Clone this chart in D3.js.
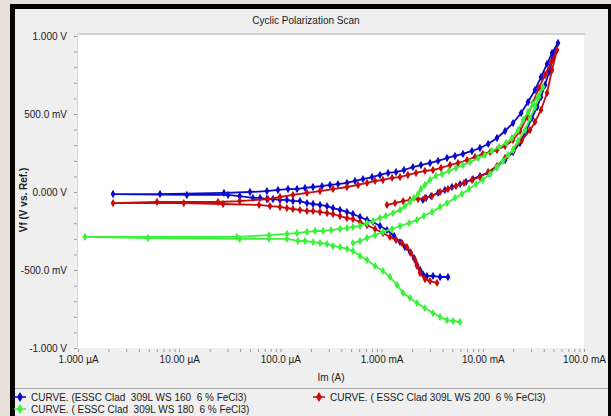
<!DOCTYPE html>
<html><head><meta charset="utf-8">
<script src="https://cdn.jsdelivr.net/npm/d3@7"></script>
<style>
html,body{margin:0;padding:0;background:#e9e0da;overflow:hidden;}
svg{display:block;}
text{font-family:"Liberation Sans Narrow","Arial Narrow","Liberation Sans",Arial,sans-serif;fill:#1a1a1a;}
.pre{white-space:pre;}
</style></head><body>
<svg id="c" width="611" height="416"></svg>
<script>
const titleText = "Cyclic Polarization Scan";
const xAxisTitle = "Im (A)";
const yAxisTitle = "Vf (V vs. Ref.)";
const yMajorValues = [-1, -0.5, 0, 0.5, 1];
const yTickLabels = ["-1.000 V", "-500.0 mV", "0.000 V", "500.0 mV", "1.000 V"];
const xMajorValues = [1e-6, 1e-5, 1e-4, 1e-3, 1e-2, 1e-1];
const xTickLabels = ["1.000 µA", "10.00 µA", "100.0 µA", "1.000 mA", "10.00 mA", "100.0 mA"];
const seriesNames = [
  "CURVE. (ESSC Clad  309L WS 160  6 % FeCl3)",
  "CURVE. ( ESSC Clad 309L WS 200  6 % FeCl3)",
  "CURVE. ( ESSC Clad  309L WS 180  6 % FeCl3)"
];
const seriesColors = ["#0a0ac8", "#c80a0a", "#3cf03c"];

// WS 160 (blue): current (A), potential (V), in scan order
const ws160I = [4.53e-3,3.78e-3,3.22e-3,2.81e-3,2.56e-3,2.40e-3,2.24e-3,2.09e-3,1.91e-3,1.70e-3,1.52e-3,1.33e-3,1.13e-3,9.64e-4,8.22e-4,7.18e-4,6.12e-4,5.21e-4,4.55e-4,3.88e-4,3.31e-4,2.89e-4,2.46e-4,2.10e-4,1.83e-4,1.56e-4,1.33e-4,1.16e-4,9.91e-5,8.45e-5,7.36e-5,6.29e-5,5.36e-5,3.96e-5,3.04e-5,
  1.19e-5,2.22e-6,6.46e-6,2.77e-5,5.01e-5,7.36e-5,
  9.46e-5,1.19e-4,1.46e-4,1.75e-4,2.10e-4,2.58e-4,3.09e-4,3.71e-4,4.55e-4,5.46e-4,6.55e-4,8.04e-4,9.64e-4,1.16e-3,1.39e-3,1.66e-3,2.04e-3,2.45e-3,3.01e-3,3.61e-3,4.43e-3,5.31e-3,6.37e-3,7.82e-3,9.38e-3,1.13e-2,1.38e-2,1.66e-2,1.99e-2,2.39e-2,2.80e-2,3.28e-2,3.76e-2,4.31e-2,4.83e-2,5.53e-2,
  4.94e-2,4.51e-2,4.12e-2,3.76e-2,3.44e-2,3.06e-2,2.67e-2,2.33e-2,1.99e-2,1.66e-2,1.38e-2,1.13e-2,9.38e-3,8.00e-3,6.82e-3,5.96e-3,4.96e-3,4.22e-3,3.61e-3,3.08e-3,2.75e-3,2.56e-3];
const ws160E = [-0.545,-0.545,-0.538,-0.538,-0.526,-0.500,-0.468,-0.423,-0.385,-0.353,-0.321,-0.282,-0.244,-0.218,-0.192,-0.179,-0.160,-0.141,-0.128,-0.115,-0.103,-0.090,-0.083,-0.077,-0.071,-0.058,-0.058,-0.051,-0.051,-0.045,-0.045,-0.038,-0.038,-0.026,-0.019,
  -0.019,-0.013,-0.013,-0.006,0.000,0.006,
  0.013,0.019,0.019,0.026,0.032,0.038,0.045,0.051,0.058,0.071,0.083,0.096,0.109,0.122,0.128,0.141,0.160,0.173,0.186,0.199,0.218,0.231,0.244,0.263,0.282,0.308,0.346,0.391,0.442,0.506,0.577,0.654,0.737,0.821,0.891,0.955,
  0.859,0.769,0.686,0.609,0.545,0.474,0.391,0.314,0.256,0.205,0.160,0.122,0.103,0.083,0.064,0.051,0.032,0.013,-0.006,-0.026,-0.038,-0.051];

// WS 200 (red)
const ws200I = [3.53e-3,3.01e-3,2.68e-3,2.40e-3,2.24e-3,2.14e-3,1.95e-3,1.78e-3,1.59e-3,1.39e-3,1.21e-3,1.03e-3,8.61e-4,7.18e-4,6.12e-4,5.21e-4,4.55e-4,3.88e-4,3.31e-4,2.89e-4,2.46e-4,2.10e-4,1.83e-4,1.56e-4,1.33e-4,1.16e-4,9.91e-5,7.89e-5,6.15e-5,
  2.71e-5,1.11e-5,2.22e-6,6.04e-6,2.42e-5,3.96e-5,7.54e-5,
  9.91e-5,1.33e-4,1.83e-4,2.46e-4,3.31e-4,4.55e-4,5.85e-4,7.18e-4,8.61e-4,1.03e-3,1.27e-3,1.52e-3,1.82e-3,2.19e-3,2.68e-3,3.22e-3,3.86e-3,4.74e-3,5.69e-3,6.98e-3,8.37e-3,1.00e-2,1.18e-2,1.38e-2,1.66e-2,1.99e-2,2.33e-2,2.74e-2,3.13e-2,3.59e-2,4.12e-2,4.72e-2,5.41e-2,
  4.83e-2,4.31e-2,3.76e-2,3.28e-2,2.93e-2,2.44e-2,2.03e-2,1.66e-2,1.38e-2,1.13e-2,9.38e-3,7.82e-3,6.52e-3,5.43e-3,4.53e-3,3.78e-3,3.15e-3,2.68e-3,2.29e-3,1.91e-3,1.63e-3,1.36e-3,1.13e-3];
const ws200E = [-0.583,-0.571,-0.558,-0.519,-0.474,-0.436,-0.391,-0.353,-0.327,-0.308,-0.288,-0.263,-0.237,-0.212,-0.192,-0.173,-0.167,-0.154,-0.141,-0.135,-0.128,-0.122,-0.122,-0.115,-0.109,-0.103,-0.096,-0.090,-0.083,
  -0.077,-0.071,-0.071,-0.064,-0.064,-0.058,-0.045,
  -0.032,-0.019,-0.006,0.006,0.019,0.032,0.045,0.058,0.071,0.077,0.090,0.096,0.109,0.122,0.135,0.141,0.154,0.173,0.186,0.205,0.224,0.244,0.256,0.269,0.295,0.333,0.391,0.481,0.571,0.667,0.750,0.833,0.910,
  0.782,0.635,0.526,0.449,0.397,0.333,0.269,0.218,0.167,0.128,0.096,0.077,0.058,0.038,0.019,0.000,-0.026,-0.038,-0.045,-0.051,-0.058,-0.071,-0.083];

// WS 180 (green)
const ws180I = [5.96e-3,5.08e-3,4.43e-3,3.78e-3,3.22e-3,2.68e-3,2.24e-3,1.91e-3,1.63e-3,1.42e-3,1.21e-3,1.03e-3,8.61e-4,7.18e-4,6.12e-4,5.21e-4,4.55e-4,3.88e-4,3.31e-4,2.89e-4,2.46e-4,2.10e-4,1.75e-4,1.49e-4,1.16e-4,7.71e-5,3.96e-5,
  4.92e-6,1.17e-6,3.72e-5,7.71e-5,
  1.16e-4,1.46e-4,1.83e-4,2.20e-4,2.64e-4,3.16e-4,3.88e-4,4.55e-4,5.21e-4,6.12e-4,7.18e-4,8.22e-4,9.64e-4,1.10e-3,1.30e-3,1.52e-3,1.70e-3,1.91e-3,2.09e-3,2.29e-3,2.45e-3,2.68e-3,3.01e-3,3.45e-3,3.95e-3,4.63e-3,5.43e-3,6.37e-3,7.48e-3,8.97e-3,1.05e-2,1.23e-2,1.45e-2,1.70e-2,1.94e-2,2.23e-2,2.50e-2,2.80e-2,3.13e-2,3.51e-2,3.93e-2,
  3.59e-2,3.28e-2,2.93e-2,2.61e-2,2.23e-2,1.99e-2,1.78e-2,1.58e-2,1.38e-2,1.18e-2,1.00e-2,8.57e-3,7.31e-3,6.22e-3,5.31e-3,4.43e-3,3.78e-3,3.15e-3,2.62e-3,2.24e-3,1.87e-3,1.52e-3,1.27e-3,1.03e-3,8.61e-4,7.18e-4,6.12e-4,5.21e-4];
const ws180E = [-0.833,-0.827,-0.821,-0.801,-0.776,-0.744,-0.712,-0.679,-0.647,-0.596,-0.545,-0.506,-0.474,-0.436,-0.410,-0.378,-0.365,-0.353,-0.346,-0.333,-0.327,-0.321,-0.314,-0.314,-0.301,-0.301,-0.301,
  -0.295,-0.288,-0.288,-0.276,
  -0.269,-0.263,-0.256,-0.250,-0.250,-0.244,-0.237,-0.231,-0.224,-0.218,-0.199,-0.186,-0.167,-0.154,-0.135,-0.115,-0.090,-0.064,-0.038,-0.013,0.019,0.045,0.077,0.103,0.115,0.135,0.154,0.173,0.192,0.218,0.237,0.263,0.288,0.314,0.346,0.397,0.462,0.513,0.564,0.615,0.673,
  0.609,0.545,0.474,0.397,0.327,0.269,0.237,0.199,0.160,0.115,0.077,0.051,0.019,-0.013,-0.038,-0.071,-0.096,-0.128,-0.154,-0.179,-0.199,-0.218,-0.237,-0.256,-0.276,-0.295,-0.314,-0.327];

const seriesI = [ws160I, ws200I, ws180I];
const seriesE = [ws160E, ws200E, ws180E];

const svg = d3.select("#c");
const W = 611, H = 416;
const plot = {left: 78, right: 584, top: 35, bottom: 348};
const FONT = '"Liberation Sans Narrow","Arial Narrow","Liberation Sans",Arial,sans-serif';

// frame
svg.append("rect").attr("x", 10).attr("y", 4).attr("width", W - 10).attr("height", H - 4).attr("fill", "#050505");
svg.append("rect").attr("x", 15).attr("y", 9).attr("width", 593).attr("height", H - 9).attr("fill", "#efefef");

// plot background
svg.append("rect").attr("x", plot.left).attr("y", plot.top).attr("width", plot.right - plot.left)
  .attr("height", plot.bottom - plot.top).attr("fill", "#ffffff");
svg.append("line").attr("x1", plot.left - 1).attr("x2", plot.right + 1).attr("y1", plot.top - 1).attr("y2", plot.top - 1)
  .attr("stroke", "#d2d2d2").attr("stroke-width", 2);
svg.append("line").attr("x1", plot.left - 0.5).attr("x2", plot.left - 0.5).attr("y1", plot.top).attr("y2", plot.bottom)
  .attr("stroke", "#d8d8d8").attr("stroke-width", 1);

const x = d3.scaleLog().domain([1e-6, 1e-1]).range([plot.left, plot.right]);
const y = d3.scaleLinear().domain([-1, 1]).range([348, 36]);

// y axis
const yTicks = d3.range(-10, 11).map(k => k / 10);
const yAx = svg.append("g").attr("transform", `translate(${plot.left - 1},0)`)
  .call(d3.axisLeft(y).tickValues(yTicks).tickSize(3).tickPadding(7)
    .tickFormat(d => { const i = yMajorValues.findIndex(v => Math.abs(v - d) < 1e-9); return i >= 0 ? yTickLabels[i] : ""; }));
yAx.select(".domain").remove();
yAx.selectAll(".tick line").attr("stroke", "#9a9a9a");
yAx.selectAll(".tick text").attr("font-size", "10px").attr("fill", "#1a1a1a").style("font-family", FONT);

// x axis
const xTicks = [];
for (let e = -6; e <= -1; e++) for (let m = 1; m <= 9; m++) { const v = m * Math.pow(10, e); if (v <= 0.1 + 1e-12) xTicks.push(v); }
const xAx = svg.append("g").attr("transform", `translate(0,${plot.bottom + 1})`)
  .call(d3.axisBottom(x).tickValues(xTicks).tickSize(3).tickPadding(4)
    .tickFormat(d => { const i = xMajorValues.findIndex(v => Math.abs(Math.log10(v) - Math.log10(d)) < 1e-6); return i >= 0 ? xTickLabels[i] : ""; }));
xAx.select(".domain").remove();
xAx.selectAll(".tick line").attr("stroke", "#9a9a9a");
xAx.selectAll(".tick text").attr("font-size", "10px").attr("fill", "#1a1a1a").style("font-family", FONT);

// titles
svg.append("text").attr("x", 306).attr("y", 24).attr("text-anchor", "middle").attr("font-size", "10px").text(titleText);
svg.append("text").attr("x", 331).attr("y", 381).attr("text-anchor", "middle").attr("font-size", "10px").text(xAxisTitle);
svg.append("text").attr("transform", "translate(27,200) rotate(-90)").attr("text-anchor", "middle")
  .attr("font-size", "10px").attr("font-weight", "bold").text(yAxisTitle);

// data
const clip = svg.append("defs").append("clipPath").attr("id", "pc");
clip.append("rect").attr("x", plot.left).attr("y", plot.top).attr("width", plot.right - plot.left).attr("height", plot.bottom - plot.top);
const g = svg.append("g").attr("clip-path", "url(#pc)");
const line = d3.line().x(d => x(d[0])).y(d => y(d[1]));
const sym = d3.symbol().type(d3.symbolDiamond).size(20);

seriesI.forEach((arr, si) => {
  const pts = arr.map((v, i) => [v, seriesE[si][i]]).filter(p => p[1] !== undefined);
  const col = seriesColors[si];
  g.append("path").datum(pts).attr("d", line).attr("fill", "none").attr("stroke", col)
    .attr("stroke-width", 1.8).attr("stroke-linejoin", "round");
  g.selectAll(null).data(pts).enter().append("path").attr("d", sym)
    .attr("transform", d => `translate(${x(d[0])},${y(d[1])})`).attr("fill", col);
});

// legend
svg.append("line").attr("x1", 15).attr("x2", 608).attr("y1", 388.5).attr("y2", 388.5).attr("stroke", "#a8a8a8");
const legendPos = [[20, 397], [319, 397], [20, 409]];
seriesNames.forEach((name, i) => {
  const [lx, ly] = legendPos[i];
  const lg = svg.append("g");
  lg.append("line").attr("x1", lx - 6).attr("x2", lx + 6).attr("y1", ly).attr("y2", ly)
    .attr("stroke", seriesColors[i]).attr("stroke-width", 1.5);
  lg.append("path").attr("d", d3.symbol().type(d3.symbolDiamond).size(30)).attr("transform", `translate(${lx},${ly})`)
    .attr("fill", seriesColors[i]);
  lg.append("text").attr("class", "pre").attr("xml:space", "preserve").attr("x", lx + 11).attr("y", ly + 3.5)
    .attr("font-size", "10px").text(name);
});
</script>
</body></html>
